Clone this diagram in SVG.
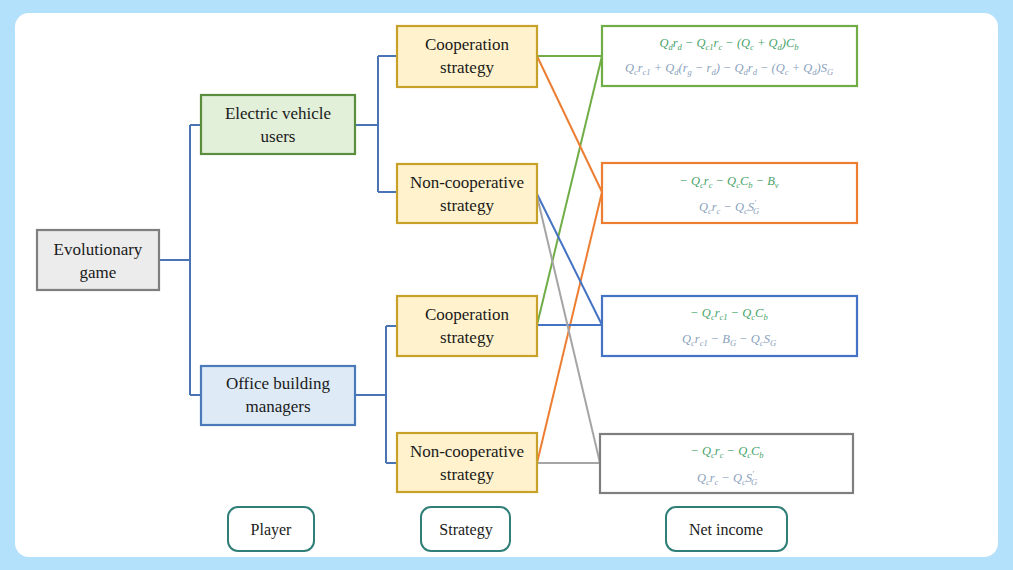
<svg xmlns="http://www.w3.org/2000/svg" width="1013" height="570" viewBox="0 0 1013 570">
<style>
.node{font-family:'Liberation Serif','Times New Roman','DejaVu Serif',serif;font-size:17px;fill:#1a1a1a;text-anchor:middle}
.lab{font-family:'Liberation Serif','Times New Roman','DejaVu Serif',serif;font-size:16px;fill:#1a1a1a;text-anchor:middle}
.f{font-family:'Liberation Serif','Times New Roman','DejaVu Serif',serif;font-style:italic;font-size:12.5px;text-anchor:middle}
.g{fill:#47a36a}
.b{fill:#8aa2bd}
.sub{font-size:8.5px}
.strat{fill:#fff2cc;stroke:#c8a12a;stroke-width:2.2}
.inc{fill:#fff;stroke-width:2.2}
.legend{fill:#fff;stroke:#2f7f78;stroke-width:2}
.tree{fill:none;stroke:#4a74b4;stroke-width:2}
.c{fill:none;stroke-width:2}
</style>
<rect x="0" y="0" width="1013" height="570" fill="#b3e0fb"/>
<rect x="15" y="13" width="983" height="544" rx="14" fill="#ffffff"/>

<g id="connectors">
<path class="tree" d="M159 260 H190 M190 125 V395 M190 125 H201 M190 395 H201"/>
<path class="tree" d="M355 125 H378 M378 56 V192 M378 56 H397 M378 192 H397"/>
<path class="tree" d="M355 395 H386 M386 326 V463 M386 326 H397 M386 463 H397"/>
<line class="c" x1="537" y1="56" x2="602" y2="56" stroke="#70ad47"/>
<line class="c" x1="537" y1="325" x2="602" y2="56" stroke="#70ad47"/>
<line class="c" x1="537" y1="56" x2="602" y2="192" stroke="#ed7d31"/>
<line class="c" x1="537" y1="463" x2="602" y2="192" stroke="#ed7d31"/>
<line class="c" x1="537" y1="194" x2="602" y2="325" stroke="#4472c4"/>
<line class="c" x1="537" y1="325" x2="602" y2="325" stroke="#4472c4" stroke-width="1.6"/>
<line class="c" x1="537" y1="196" x2="600" y2="463" stroke="#a5a5a5"/>
<line class="c" x1="537" y1="463" x2="600" y2="463" stroke="#a5a5a5"/>
</g>

<g id="evolutionary-game">
<rect x="37" y="230" width="122" height="60" fill="#ececec" stroke="#7f7f7f" stroke-width="2.2"/>
<text class="node" x="98" y="255">Evolutionary</text>
<text class="node" x="98" y="278">game</text>
</g>

<g id="ev-users">
<rect x="201" y="95" width="154" height="59" fill="#e2efd9" stroke="#5a8d3c" stroke-width="2.2"/>
<text class="node" x="278" y="119">Electric vehicle</text>
<text class="node" x="278" y="142">users</text>
</g>

<g id="office-managers">
<rect x="201" y="366" width="154" height="59" fill="#deebf7" stroke="#4a7ab8" stroke-width="2.2"/>
<text class="node" x="278" y="389">Office building</text>
<text class="node" x="278" y="412">managers</text>
</g>

<g id="ev-coop">
<rect class="strat" x="397" y="26" width="140" height="61"/>
<text class="node" x="467" y="50">Cooperation</text>
<text class="node" x="467" y="73">strategy</text>
</g>
<g id="ev-noncoop">
<rect class="strat" x="397" y="164" width="140" height="59"/>
<text class="node" x="467" y="188">Non-cooperative</text>
<text class="node" x="467" y="211">strategy</text>
</g>
<g id="ob-coop">
<rect class="strat" x="397" y="296" width="140" height="60"/>
<text class="node" x="467" y="320">Cooperation</text>
<text class="node" x="467" y="343">strategy</text>
</g>
<g id="ob-noncoop">
<rect class="strat" x="397" y="433" width="140" height="59"/>
<text class="node" x="467" y="457">Non-cooperative</text>
<text class="node" x="467" y="480">strategy</text>
</g>

<g id="income-1">
<rect class="inc" x="602" y="26" width="255" height="60" stroke="#70ad47"/>
<text class="f g" x="729" y="47">Q<tspan class="sub" dy="3">d</tspan><tspan dy="-3">r</tspan><tspan class="sub" dy="3">d</tspan><tspan dy="-3"> − Q</tspan><tspan class="sub" dy="3">c1</tspan><tspan dy="-3">r</tspan><tspan class="sub" dy="3">c</tspan><tspan dy="-3"> − (Q</tspan><tspan class="sub" dy="3">c</tspan><tspan dy="-3"> + Q</tspan><tspan class="sub" dy="3">d</tspan><tspan dy="-3">)C</tspan><tspan class="sub" dy="3">b</tspan></text>
<text class="f b" x="729" y="72">Q<tspan class="sub" dy="3">c</tspan><tspan dy="-3">r</tspan><tspan class="sub" dy="3">c1</tspan><tspan dy="-3"> + Q</tspan><tspan class="sub" dy="3">d</tspan><tspan dy="-3">(r</tspan><tspan class="sub" dy="3">g</tspan><tspan dy="-3"> − r</tspan><tspan class="sub" dy="3">d</tspan><tspan dy="-3">) − Q</tspan><tspan class="sub" dy="3">d</tspan><tspan dy="-3">r</tspan><tspan class="sub" dy="3">d</tspan><tspan dy="-3"> − (Q</tspan><tspan class="sub" dy="3">c</tspan><tspan dy="-3"> + Q</tspan><tspan class="sub" dy="3">d</tspan><tspan dy="-3">)S</tspan><tspan class="sub" dy="3">G</tspan></text>
</g>
<g id="income-2">
<rect class="inc" x="602" y="163" width="255" height="60" stroke="#ed7d31"/>
<text class="f g" x="729" y="185">− Q<tspan class="sub" dy="3">c</tspan><tspan dy="-3">r</tspan><tspan class="sub" dy="3">c</tspan><tspan dy="-3"> − Q</tspan><tspan class="sub" dy="3">c</tspan><tspan dy="-3">C</tspan><tspan class="sub" dy="3">b</tspan><tspan dy="-3"> − B</tspan><tspan class="sub" dy="3">v</tspan></text>
<text class="f b" x="729" y="211">Q<tspan class="sub" dy="3">c</tspan><tspan dy="-3">r</tspan><tspan class="sub" dy="3">c</tspan><tspan dy="-3"> − Q</tspan><tspan class="sub" dy="3">c</tspan><tspan dy="-3">S</tspan><tspan class="sub" dy="-5">′</tspan><tspan class="sub" dx="-3" dy="8">G</tspan></text>
</g>
<g id="income-3">
<rect class="inc" x="602" y="296" width="255" height="60" stroke="#4472c4"/>
<text class="f g" x="729" y="317">− Q<tspan class="sub" dy="3">c</tspan><tspan dy="-3">r</tspan><tspan class="sub" dy="3">c1</tspan><tspan dy="-3"> − Q</tspan><tspan class="sub" dy="3">c</tspan><tspan dy="-3">C</tspan><tspan class="sub" dy="3">b</tspan></text>
<text class="f b" x="729" y="343">Q<tspan class="sub" dy="3">c</tspan><tspan dy="-3">r</tspan><tspan class="sub" dy="3">c1</tspan><tspan dy="-3"> − B</tspan><tspan class="sub" dy="3">G</tspan><tspan dy="-3"> − Q</tspan><tspan class="sub" dy="3">c</tspan><tspan dy="-3">S</tspan><tspan class="sub" dy="3">G</tspan></text>
</g>
<g id="income-4">
<rect class="inc" x="600" y="434" width="253" height="59" stroke="#7f7f7f"/>
<text class="f g" x="727" y="455">− Q<tspan class="sub" dy="3">c</tspan><tspan dy="-3">r</tspan><tspan class="sub" dy="3">c</tspan><tspan dy="-3"> − Q</tspan><tspan class="sub" dy="3">c</tspan><tspan dy="-3">C</tspan><tspan class="sub" dy="3">b</tspan></text>
<text class="f b" x="727" y="482">Q<tspan class="sub" dy="3">c</tspan><tspan dy="-3">r</tspan><tspan class="sub" dy="3">c</tspan><tspan dy="-3"> − Q</tspan><tspan class="sub" dy="3">c</tspan><tspan dy="-3">S</tspan><tspan class="sub" dy="-5">′</tspan><tspan class="sub" dx="-3" dy="8">G</tspan></text>
</g>

<g id="legend-player">
<rect class="legend" x="228" y="507" width="86" height="44" rx="10"/>
<text class="lab" x="271" y="535">Player</text>
</g>
<g id="legend-strategy">
<rect class="legend" x="421" y="507" width="89" height="44" rx="10"/>
<text class="lab" x="466" y="535">Strategy</text>
</g>
<g id="legend-income">
<rect class="legend" x="666" y="507" width="121" height="44" rx="10"/>
<text class="lab" x="726" y="535">Net income</text>
</g>
</svg>
